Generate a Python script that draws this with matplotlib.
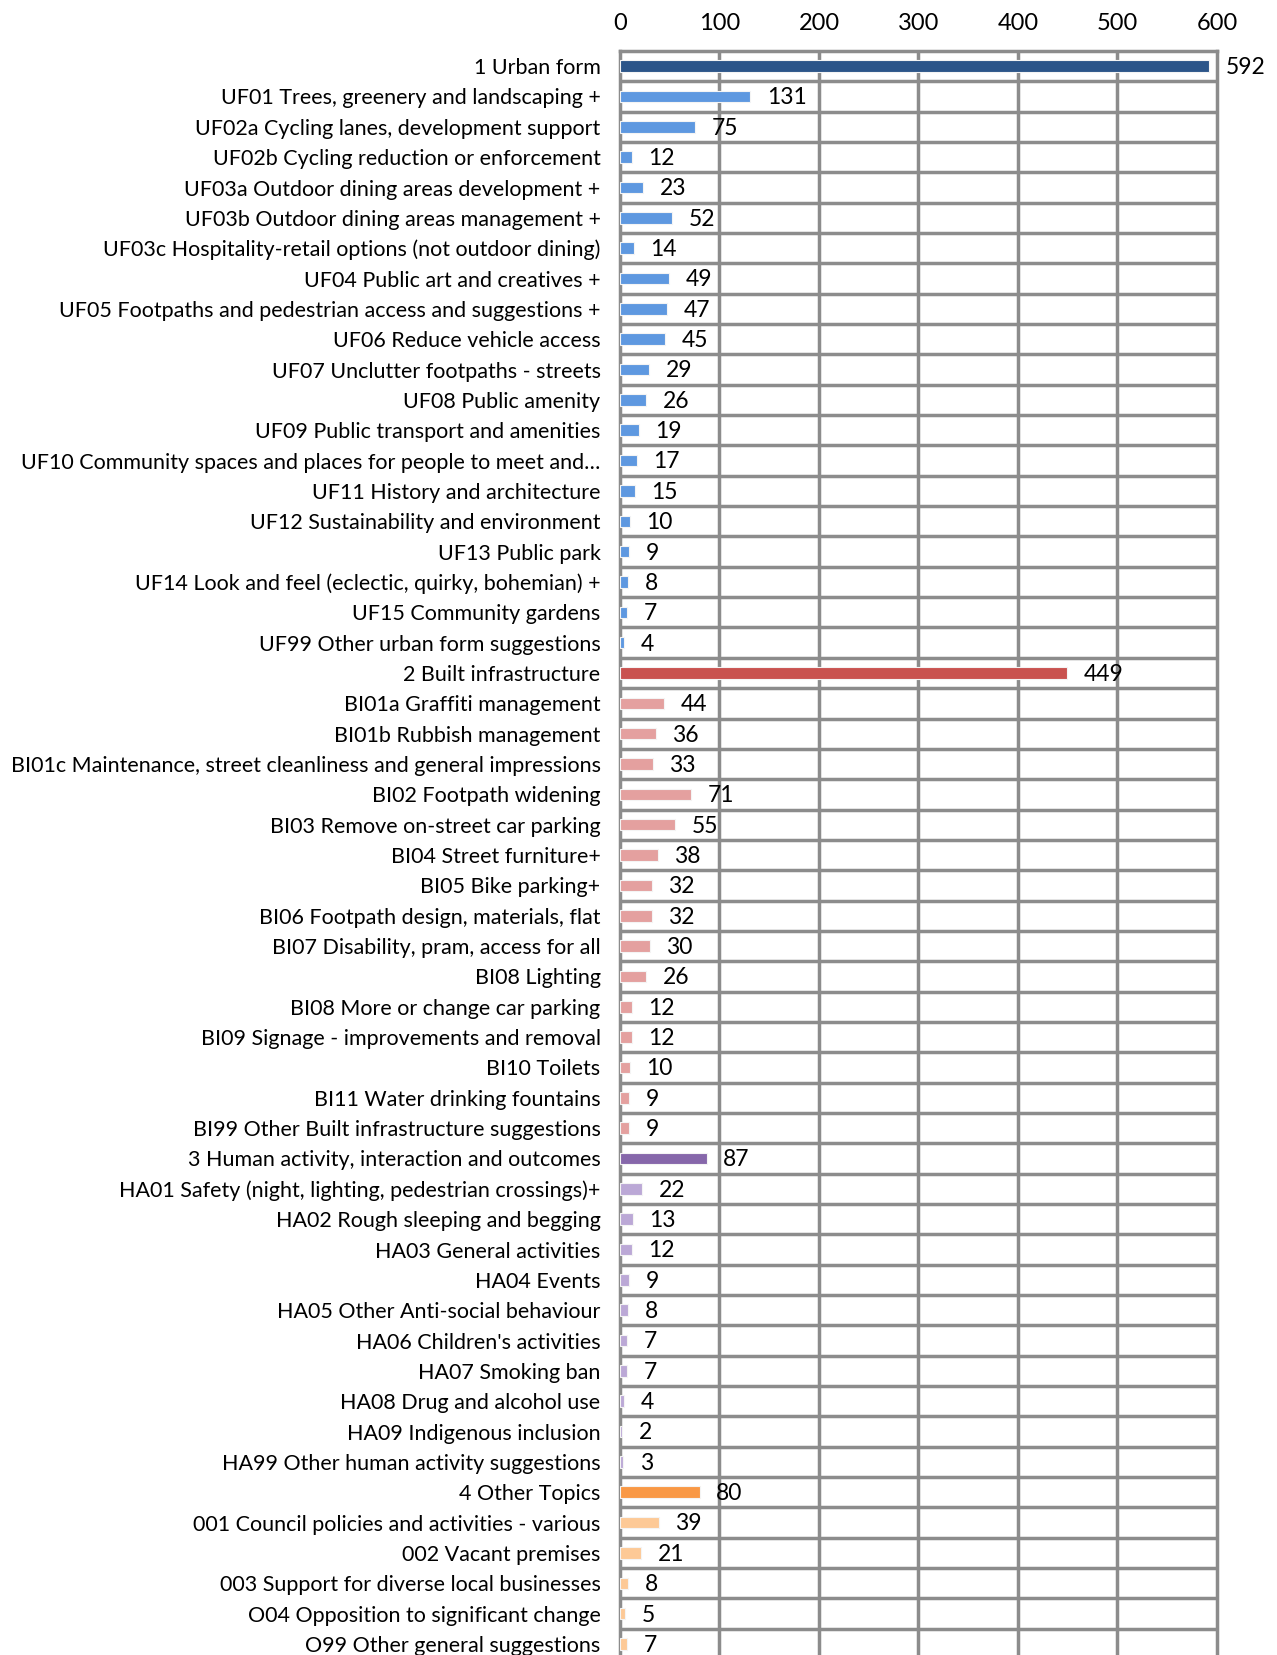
import matplotlib
matplotlib.use("Agg")
import matplotlib.pyplot as plt

# row labels, top to bottom
labels = [
    "1 Urban form",
    "UF01 Trees, greenery and landscaping +",
    "UF02a Cycling lanes, development support",
    "UF02b Cycling reduction or enforcement",
    "UF03a Outdoor dining areas development +",
    "UF03b Outdoor dining areas management +",
    "UF03c Hospitality-retail options (not outdoor dining)",
    "UF04 Public art and creatives +",
    "UF05 Footpaths and pedestrian access and suggestions +",
    "UF06 Reduce vehicle access",
    "UF07 Unclutter footpaths - streets",
    "UF08 Public amenity",
    "UF09 Public transport and amenities",
    "UF10 Community spaces and places for people to meet and\u2026",
    "UF11 History and architecture",
    "UF12 Sustainability and environment",
    "UF13 Public park",
    "UF14 Look and feel (eclectic, quirky, bohemian) +",
    "UF15 Community gardens",
    "UF99 Other urban form suggestions",
    "2 Built infrastructure",
    "BI01a Graffiti management",
    "BI01b Rubbish management",
    "BI01c Maintenance, street cleanliness and general impressions",
    "BI02 Footpath widening",
    "BI03 Remove on-street car parking",
    "BI04 Street furniture+",
    "BI05 Bike parking+",
    "BI06 Footpath design, materials, flat",
    "BI07 Disability, pram, access for all",
    "BI08 Lighting",
    "BI08 More or change car parking",
    "BI09 Signage - improvements and removal",
    "BI10 Toilets",
    "BI11 Water drinking fountains",
    "BI99 Other Built infrastructure suggestions",
    "3 Human activity, interaction and outcomes",
    "HA01 Safety (night, lighting, pedestrian crossings)+",
    "HA02 Rough sleeping and begging",
    "HA03 General activities",
    "HA04 Events",
    "HA05 Other Anti-social behaviour",
    "HA06 Children's activities",
    "HA07 Smoking ban",
    "HA08 Drug and alcohol use",
    "HA09 Indigenous inclusion",
    "HA99 Other human activity suggestions",
    "4 Other Topics",
    "001 Council policies and activities - various",
    "002 Vacant premises",
    "003 Support for diverse local businesses",
    "O04 Opposition to significant change",
    "O99 Other general suggestions",
]

counts = [592, 131, 75, 12, 23, 52, 14, 49, 47, 45, 29, 26, 19, 17, 15, 10, 9, 8, 7, 4,
          449, 44, 36, 33, 71, 55, 38, 32, 32, 30, 26, 12, 12, 10, 9, 9,
          87, 22, 13, 12, 9, 8, 7, 7, 4, 2, 3,
          80, 39, 21, 8, 5, 7]

# group of each row (0 urban form, 1 built, 2 human, 3 other)
group = [0] * 20 + [1] * 16 + [2] * 11 + [3] * 6
# the first row of each group is the group total
is_total = [lab[0] in "1234" and lab[1] == " " for lab in labels]

total_colors = ["#2C5589", "#C9524F", "#8667AA", "#F99845"]
sub_colors = ["#5E98E0", "#E4A09F", "#BBA8D6", "#FDC996"]

grid_col = "#8C8C8C"
font = "Lato"
fs = 15.5

fig = plt.figure(figsize=(12.77, 16.55), dpi=100)
ax = fig.add_axes([0.4855, -0.0025, 0.4675, 0.9717])

ypos = list(range(len(labels)))
colors = [total_colors[g] if t else sub_colors[g] for g, t in zip(group, is_total)]
ax.barh(ypos, counts, height=0.38, color=colors, edgecolor="#F4F4F4", linewidth=0.8, zorder=3)

for y, v in zip(ypos, counts):
    ax.annotate(str(v), (v, y), xytext=(12, -1), textcoords="offset points",
                ha="left", va="center", fontsize=16.5, family=font, zorder=4)

ax.set_xlim(0, 600)
ax.set_ylim(len(labels) - 0.5, -0.5)
ax.xaxis.tick_top()
ax.set_xticks([0, 100, 200, 300, 400, 500, 600])
ax.tick_params(axis="x", length=0, pad=12, labelsize=17)
ax.set_yticks(ypos)
ax.set_yticklabels(labels)
ax.tick_params(axis="y", length=0, pad=14, labelsize=fs)
for t in ax.get_xticklabels() + ax.get_yticklabels():
    t.set_family(font)

for x in range(100, 600, 100):
    ax.axvline(x, color=grid_col, lw=2.5, zorder=1)
for y in ypos[:-1]:
    ax.axhline(y + 0.5, color=grid_col, lw=2.5, zorder=1)
for s in ax.spines.values():
    s.set_color(grid_col)
    s.set_linewidth(2.5)

fig.savefig("out.png", dpi=100)
